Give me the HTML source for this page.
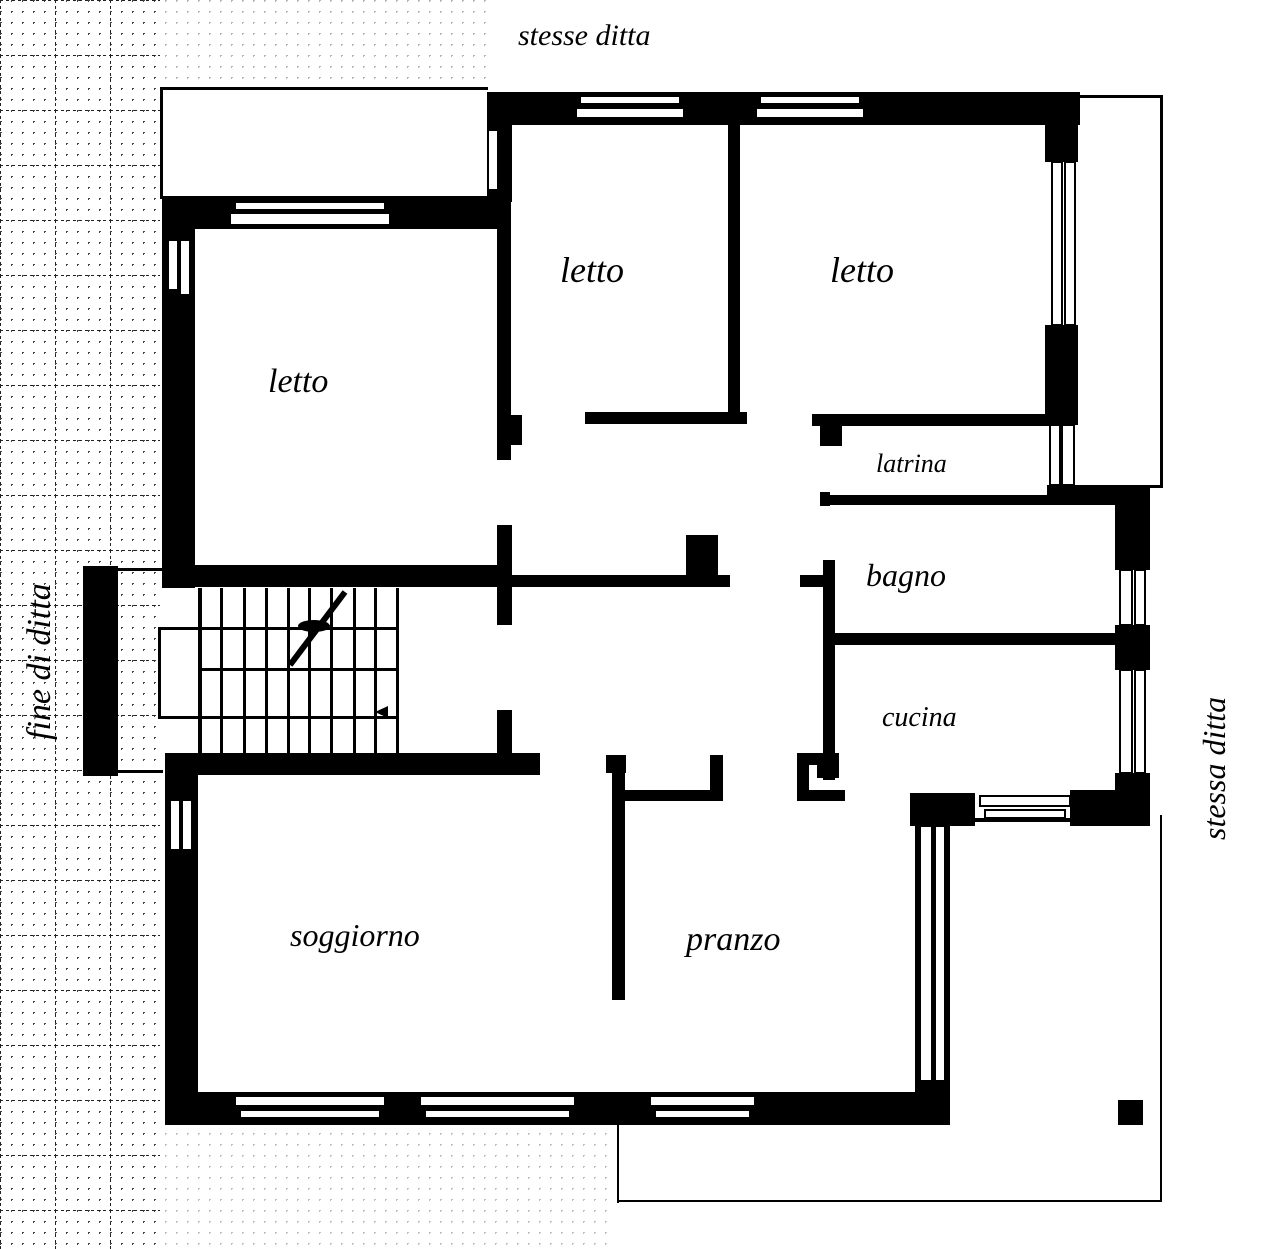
<!DOCTYPE html>
<html><head><meta charset="utf-8"><style>
html,body{margin:0;padding:0;background:#fff}
svg{display:block}
.h{font-family:"Liberation Serif",serif;font-style:italic;fill:#000}
</style></head><body>
<svg width="1280" height="1249" viewBox="0 0 1280 1249" xmlns="http://www.w3.org/2000/svg">
<defs>
<pattern id="g" width="11" height="11" patternUnits="userSpaceOnUse">
<rect x="0" y="0" width="2" height="1" fill="#444"/><rect x="0" y="0" width="1" height="2" fill="#444"/>
</pattern>
<pattern id="G" width="55" height="55" patternUnits="userSpaceOnUse">
<path d="M0 0H55M0 0V55" stroke="#222" stroke-width="2" stroke-dasharray="3 3" fill="none"/>
</pattern>
</defs>
<rect width="1280" height="1249" fill="#fff"/>
<rect x="0" y="0" width="160" height="1249" fill="url(#g)"/>
<rect x="0" y="0" width="160" height="1249" fill="url(#G)"/>
<rect x="160" y="0" width="330" height="88" fill="url(#g)" opacity="0.4"/>
<rect x="160" y="1125" width="450" height="124" fill="url(#g)" opacity="0.35"/>
<g fill="#000">
<rect x="160" y="87" width="328" height="3"/><rect x="160" y="87" width="3" height="112"/>
<rect x="487" y="92" width="593" height="33"/>
<rect x="487" y="92" width="25" height="110"/>
<rect x="162" y="196" width="345" height="33"/>
<rect x="162" y="196" width="33" height="392"/>
<rect x="497" y="120" width="14" height="340"/>
<rect x="497" y="415" width="25" height="30"/>
<rect x="728" y="120" width="12" height="300"/>
<rect x="585" y="412" width="162" height="12"/>
<rect x="812" y="414" width="250" height="12"/>
<rect x="820" y="424" width="22" height="22"/>
<rect x="820" y="492" width="10" height="14"/>
<rect x="820" y="495" width="230" height="10"/>
<rect x="1045" y="92" width="33" height="70"/>
<rect x="1045" y="325" width="33" height="100"/>
<rect x="1047" y="485" width="90" height="20"/>
<rect x="1078" y="95" width="84" height="3"/><rect x="1160" y="95" width="3" height="392"/><rect x="1078" y="485" width="85" height="3"/>
<rect x="1115" y="485" width="35" height="85"/>
<rect x="1115" y="625" width="35" height="45"/>
<rect x="1115" y="773" width="35" height="50"/>
<rect x="823" y="560" width="12" height="220"/>
<rect x="800" y="575" width="35" height="12"/>
<rect x="823" y="633" width="300" height="12"/>
<rect x="797" y="753" width="42" height="12"/><rect x="797" y="753" width="12" height="48"/><rect x="797" y="790" width="48" height="11"/>
<rect x="817" y="753" width="22" height="25"/>
<rect x="910" y="793" width="65" height="33"/>
<rect x="1070" y="790" width="80" height="36"/>
<rect x="975" y="818" width="95" height="4"/>
<rect x="83" y="566" width="35" height="210"/>
<rect x="162" y="565" width="350" height="22"/>
<rect x="497" y="525" width="15" height="100"/>
<rect x="497" y="575" width="233" height="12"/>
<rect x="686" y="535" width="32" height="45"/>
<rect x="497" y="710" width="15" height="60"/>
<rect x="165" y="753" width="375" height="22"/>
<rect x="118" y="568" width="45" height="3"/><rect x="118" y="770" width="45" height="3"/>
<g>
<rect x="198" y="588" width="4" height="165"/><rect x="220" y="588" width="3" height="165"/><rect x="243" y="588" width="3" height="165"/>
<rect x="265" y="588" width="3" height="165"/><rect x="287" y="588" width="3" height="165"/><rect x="308" y="588" width="3" height="165"/>
<rect x="330" y="588" width="3" height="165"/><rect x="353" y="588" width="3" height="165"/><rect x="374" y="588" width="3" height="165"/><rect x="396" y="588" width="3" height="165"/>
<rect x="158" y="627" width="240" height="3"/><rect x="200" y="668" width="198" height="3"/><rect x="158" y="716" width="240" height="3"/>
<rect x="158" y="627" width="3" height="92"/>
</g>
<path d="M345 592 L290 665" stroke="#000" stroke-width="6"/>
<ellipse cx="314" cy="626" rx="16" ry="6"/>
<path d="M375 712 L388 706 L388 718Z"/>
<rect x="165" y="760" width="33" height="365"/>
<rect x="165" y="1092" width="785" height="33"/>
<rect x="612" y="755" width="13" height="245"/>
<rect x="612" y="790" width="110" height="11"/>
<rect x="710" y="755" width="13" height="46"/>
<rect x="606" y="755" width="20" height="18"/>
<rect x="915" y="795" width="35" height="330"/>
<rect x="617" y="1125" width="2" height="78"/><rect x="617" y="1200" width="545" height="2"/>
<rect x="1160" y="815" width="2" height="387"/>
<rect x="1118" y="1100" width="25" height="25"/>
</g>
<g fill="#fff" stroke="#000" stroke-width="2">
<rect x="580" y="96" width="100" height="8"/><rect x="576" y="108" width="108" height="10"/>
<rect x="760" y="96" width="100" height="8"/><rect x="756" y="108" width="108" height="10"/>
<rect x="235" y="202" width="150" height="8"/><rect x="230" y="213" width="160" height="12"/>
<rect x="1052" y="162" width="10" height="163"/><rect x="1065" y="162" width="10" height="163"/>
<rect x="488" y="130" width="10" height="60"/>
<rect x="168" y="240" width="10" height="50"/><rect x="180" y="240" width="10" height="55"/>
<rect x="1050" y="425" width="10" height="60"/><rect x="1062" y="425" width="12" height="60"/>
<rect x="1120" y="570" width="12" height="55"/><rect x="1135" y="570" width="10" height="55"/>
<rect x="1120" y="670" width="12" height="103"/><rect x="1135" y="670" width="10" height="103"/>
<rect x="980" y="796" width="90" height="10"/><rect x="985" y="810" width="80" height="8"/>
<rect x="920" y="826" width="12" height="255"/><rect x="935" y="826" width="10" height="255"/>
<rect x="235" y="1096" width="150" height="10"/><rect x="240" y="1110" width="140" height="8"/>
<rect x="420" y="1096" width="155" height="10"/><rect x="425" y="1110" width="145" height="8"/>
<rect x="650" y="1096" width="105" height="10"/><rect x="655" y="1110" width="95" height="8"/>
<rect x="170" y="800" width="10" height="50"/><rect x="182" y="800" width="10" height="50"/>
</g>
<g class="h">
<text x="518" y="45" font-size="30">stesse ditta</text>
<text x="560" y="282" font-size="36">letto</text>
<text x="830" y="282" font-size="36">letto</text>
<text x="268" y="392" font-size="34">letto</text>
<text x="876" y="472" font-size="26">latrina</text>
<text x="866" y="586" font-size="32">bagno</text>
<text x="882" y="726" font-size="28">cucina</text>
<text x="290" y="946" font-size="32">soggiorno</text>
<text x="686" y="950" font-size="34">pranzo</text>
<text transform="translate(50,740) rotate(-90)" font-size="34">fine di ditta</text>
<text transform="translate(1225,840) rotate(-90)" font-size="32">stessa ditta</text>
</g>
</svg>
</body></html>
